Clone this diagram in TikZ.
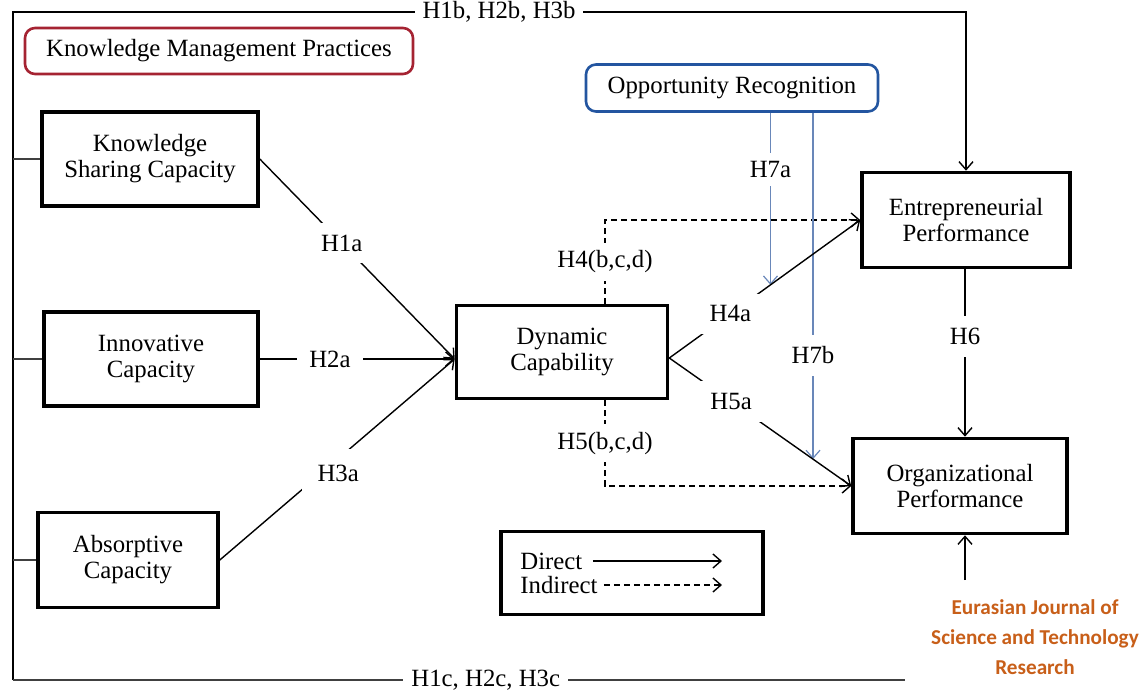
\documentclass[tikz,border=0pt]{standalone}
\usepackage{fontspec}
\setmainfont{Liberation Serif}
\newfontfamily\journalfont{Carlito}
\usepackage{xcolor}
\usetikzlibrary{arrows.meta,positioning,calc}
\definecolor{kmpred}{RGB}{165,35,50}
\definecolor{orblue}{RGB}{35,85,160}
\definecolor{modline}{RGB}{105,135,185}
\definecolor{journalorange}{RGB}{200,95,25}

\begin{document}
\begin{tikzpicture}[x=0.5pt,y=-0.5pt]
\tikzset{
    concept box/.style={draw, line width=1.8pt, align=center, inner sep=0pt,
        font=\fontsize{12.4}{13}\selectfont},
    round box/.style={draw, line width=1.3pt, rounded corners=5pt, inner sep=0pt,
        fill=white, font=\fontsize{12.4}{13}\selectfont},
    hyp/.style={fill=white, text=black, inner sep=4pt, font=\fontsize{12.4}{13}\selectfont},
    link/.style={line width=0.7pt, -{Straight Barb[length=4pt,width=7pt]}},
    wire/.style={line width=0.7pt, black!75},
    indirect/.style={link, dash pattern=on 3pt off 2pt},
    moderation/.style={line width=0.6pt, modline, -{Straight Barb[length=4pt,width=7pt]}}
}
\useasboundingbox (0,0) rectangle (1145,691);

\node[concept box, minimum width=108pt, minimum height=47pt] (ksc) at (150,159) {Knowledge\\Sharing Capacity};
\node[concept box, minimum width=107pt, minimum height=47pt] (ic) at (151,359) {Innovative\\Capacity};
\node[concept box, minimum width=90pt, minimum height=47.5pt] (ac) at (128,560) {Absorptive\\Capacity};
\node[concept box, minimum width=105.5pt, minimum height=46.5pt] (dc) at (562,352) {Dynamic\\Capability};
\node[concept box, minimum width=104pt, minimum height=47.5pt] (ep) at (966,220) {Entrepreneurial\\Performance};
\node[concept box, minimum width=107pt, minimum height=47.5pt] (op) at (960,486) {Organizational\\Performance};

\node[round box, draw=kmpred, minimum width=194pt, minimum height=23pt] (kmp) at (219,51) {Knowledge Management Practices};
\node[round box, draw=orblue, minimum width=146pt, minimum height=23.5pt] (opr) at (732,88) {Opportunity Recognition};

\coordinate (tl) at (13,12);
\coordinate (bl) at (13,680);
\coordinate (tr) at (966,12);
\coordinate (br) at (905,680);
\coordinate (opfoot) at (965,580);
\coordinate (dcin) at ($(dc.west)+(0,7)$);
\coordinate (dcout) at ($(dc.east)+(0,6)$);

\draw[link] (bl) -- (tl) -- node[hyp, pos=.51]{H1b, H2b, H3b} (tr) -- (ep.north);
\draw[wire] (bl) -- node[hyp, pos=.53]{H1c, H2c, H3c} (br);
\draw[link] (opfoot) -- (op.south -| opfoot);
\draw[wire] (ksc.west -| tl) -- (ksc.west);
\draw[wire] (ic.west -| tl) -- (ic.west);
\draw[wire] (ac.west -| tl) -- (ac.west);

\draw[link] (ksc.east) -- node[hyp, pos=.42, inner sep=6pt]{H1a} (dcin);
\draw[link] (ic.east) -- node[hyp, pos=.36, inner sep=6pt]{H2a} (dcin);
\draw[link] (ac.east) -- node[hyp, pos=.47, inner sep=8pt, xshift=4pt, yshift=-4pt]{H3a} (dcin);

\draw[indirect] ($(dc.north)+(43,0)$) |- node[hyp, pos=.25]{H4(b,c,d)} (ep.west);
\draw[indirect] ($(dc.south)+(43,0)$) |- node[hyp, pos=.25]{H5(b,c,d)} (op.west);

\path (dcout) -- coordinate[pos=.53] (m4) (ep.west);
\path (dcout) -- coordinate[pos=.79] (m5) (op.west);
\draw[moderation] (opr.south -| m4) -- node[hyp, pos=.33]{H7a} (m4);
\draw[moderation] (opr.south -| m5) -- node[hyp, pos=.70, inner sep=6pt]{H7b} (m5);

\draw[link] (dcout) -- node[hyp, pos=.32, inner sep=6pt]{H4a} (ep.west);
\draw[link] (dcout) -- node[hyp, pos=.34, inner sep=6pt]{H5a} (op.west);
\draw[link] (ep.south -| opfoot) -- node[hyp, pos=.4, inner sep=6pt]{H6} (op.north -| opfoot);

\node[draw, line width=1.8pt, minimum width=131pt, minimum height=41.5pt] (legend) at (632,573) {};
\node[anchor=west, inner sep=2pt, font=\fontsize{12.4}{13}\selectfont] (ldirect) at (516,561) {Direct};
\node[anchor=west, inner sep=2pt, font=\fontsize{12.4}{13}\selectfont] (lindirect) at (516,585) {Indirect};
\coordinate (ldend) at (722,561);
\coordinate (liend) at (722,585);
\draw[link, shorten <=3pt] (ldirect) -- (ldend);
\draw[indirect, shorten <=1pt] (lindirect) -- (liend);

\node[align=center, text=journalorange, font=\journalfont\bfseries\fontsize{10.6}{15}\selectfont] (journal) at (1035,637) {Eurasian Journal of\\Science and Technology\\Research};
\end{tikzpicture}
\end{document}
